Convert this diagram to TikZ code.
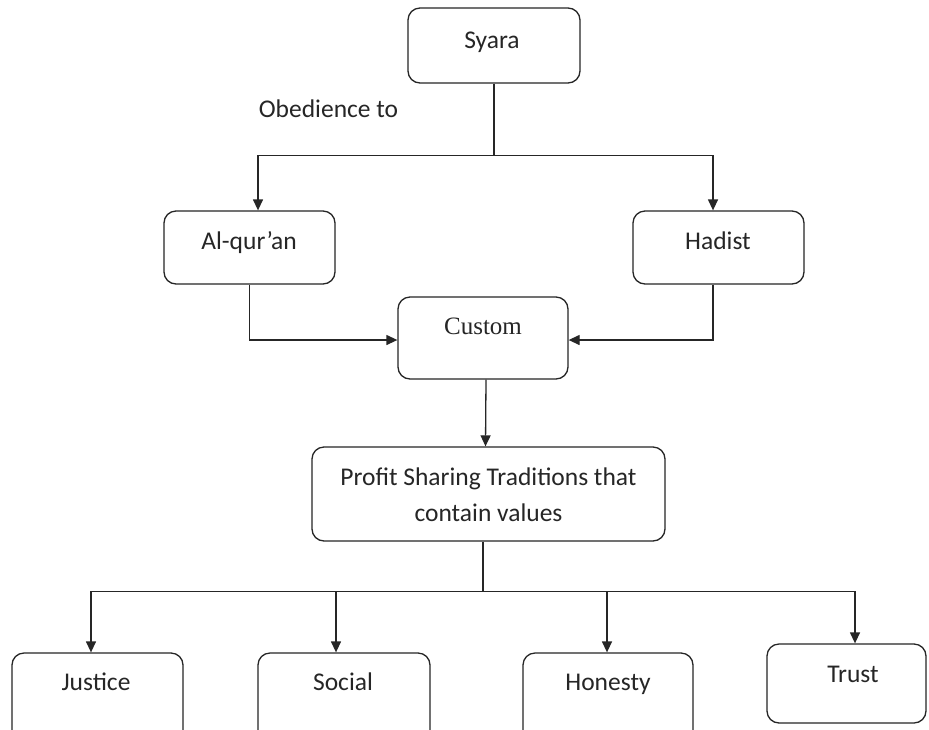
\documentclass[tikz,border=0pt]{standalone}
\usepackage{fontspec}
\setmainfont{Carlito}
\newfontfamily\timesf{Liberation Serif}
\usetikzlibrary{arrows.meta}
\begin{document}
\begin{tikzpicture}[x=1pt,y=-1pt,
 box/.style={draw=black!85, line width=1.3pt, rounded corners=12pt, inner sep=0pt},
 txt/.style={font=\fontsize{25.5}{36}\selectfont, inner sep=0pt, align=center, anchor=base, text=black!85},
 conn/.style={draw=black!85, line width=1.3pt},
 arr/.style={conn, -{Triangle[length=11pt,width=10pt]}}]
\useasboundingbox (0,0) rectangle (929,729);
\clip (0,0) rectangle (929,729);
\fill[white] (0,0) rectangle (929,729);
% boxes
\node[box, minimum width=172pt, minimum height=75pt] (syara) at (494,45.5) {};
\node[box, minimum width=171pt, minimum height=73pt] (quran) at (249.5,247.5) {};
\node[box, minimum width=171pt, minimum height=73pt] (hadist) at (718.5,247.5) {};
\node[box, minimum width=170pt, minimum height=82pt] (custom) at (483,338) {};
\node[box, minimum width=353pt, minimum height=94pt] (profit) at (488.5,494) {};
\node[box, minimum width=171pt, minimum height=92pt] (justice) at (97.5,699) {};
\node[box, minimum width=172pt, minimum height=92pt] (social) at (344,699) {};
\node[box, minimum width=170pt, minimum height=92pt] (honesty) at (608,699) {};
\node[box, minimum width=159pt, minimum height=79pt] (trust) at (846.5,683.5) {};
% texts
\node[txt] (syaraT) at (492,48) {Syara};
\node[txt] (obed) at (328.5,117.5) {Obedience to};
\node[txt] (quranT) at (249,249) {Al-qur’an};
\node[txt] (hadistT) at (718,249) {Hadist};
\node[txt, font=\timesf\fontsize{25}{28}\selectfont] (customT) at (483,334) {Custom};
\node[txt] (profitT) at (488.5,521.7) {Profit Sharing Traditions that\\contain values};
\node[txt] (justiceT) at (96,690.7) {Justice};
\node[txt] (socialT) at (343,690.7) {Social};
\node[txt] (honestyT) at (608,690.7) {Honesty};
\node[txt] (trustT) at (853,682.7) {Trust};
% connectors
\draw[conn] (syara.south) -- ++(0,72) coordinate (t1);
\draw[arr] (t1) -| ([xshift=8.5pt]quran.north);
\draw[arr] (t1) -| ([xshift=-5.5pt]hadist.north);
\draw[arr] (quran.south) |- ([yshift=-2pt]custom.west);
\draw[arr] ([xshift=-5.5pt]hadist.south) |- ([yshift=-2pt]custom.east);
\draw[arr] ([xshift=3pt]custom.south) -- ([xshift=-3pt]profit.north);
\draw[conn] ([xshift=-5.5pt]profit.south) -- ++(0,50) coordinate (t2);
\draw[arr] (t2) -| ([xshift=-6.5pt]justice.north);
\draw[arr] (t2) -| ([xshift=-8pt]social.north);
\draw[arr] (t2) -| ([xshift=-1pt]honesty.north);
\draw[arr] (t2) -| ([xshift=8.5pt]trust.north);
\end{tikzpicture}
\end{document}
